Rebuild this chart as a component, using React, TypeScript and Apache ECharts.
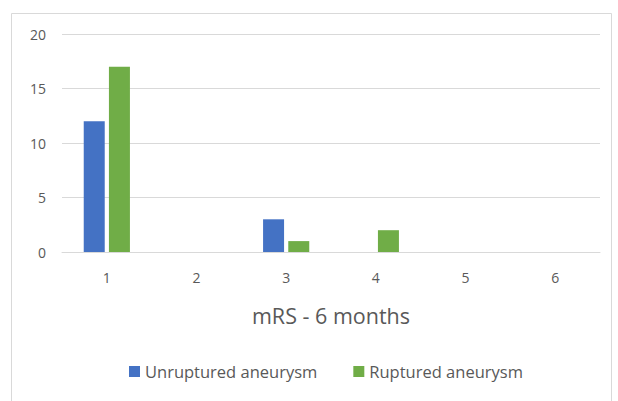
import React, { useEffect, useRef } from "react";
import * as echarts from "echarts";

const categories = ["1", "2", "3", "4", "5", "6"];
const unruptured = [12, 0, 3, 0, 0, 0];
const ruptured = [17, 0, 1, 2, 0, 0];
const seriesNames = ["Unruptured aneurysm", "Ruptured aneurysm"];

export default function App() {
  const ref = useRef<HTMLDivElement>(null);
  useEffect(() => {
    if (!ref.current) return;
    const chart = echarts.init(ref.current, undefined, { renderer: "svg" });
    const font = "Open Sans, Noto Sans, sans-serif";
    chart.setOption({
      animation: false,
      backgroundColor: "#ffffff",
      textStyle: { fontFamily: font },
      graphic: [
        {
          type: "rect",
          shape: { x: 11.5, y: 13.5, width: 600, height: 395 },
          style: { fill: "none", stroke: "#d9d9d9", lineWidth: 1 },
          silent: true,
        },
      ],
      grid: { left: 62, right: 18, top: 34, bottom: 149 },
      legend: {
        bottom: 16,
        left: 124,
        itemWidth: 11,
        itemHeight: 11,
        itemGap: 36,
        icon: "rect",
        textStyle: { color: "#595959", fontSize: 16.5, fontFamily: font },
        data: seriesNames,
      },
      xAxis: {
        type: "category",
        data: categories,
        name: "mRS - 6 months",
        nameLocation: "middle",
        nameGap: 52,
        nameTextStyle: { color: "#595959", fontSize: 21.5, fontFamily: font },
        axisLine: { lineStyle: { color: "#d9d9d9" } },
        axisTick: { show: false },
        axisLabel: { color: "#595959", fontSize: 14, margin: 18, fontFamily: font },
      },
      yAxis: {
        type: "value",
        min: 0,
        max: 20,
        interval: 5,
        axisLine: { show: false },
        axisTick: { show: false },
        splitLine: { lineStyle: { color: "#d9d9d9" } },
        axisLabel: { color: "#595959", fontSize: 14, margin: 16, fontFamily: font },
      },
      series: [
        {
          name: seriesNames[0],
          type: "bar",
          data: unruptured,
          barWidth: 21,
          barGap: "20%",
          itemStyle: { color: "#4472C4" },
        },
        {
          name: seriesNames[1],
          type: "bar",
          data: ruptured,
          barWidth: 21,
          itemStyle: { color: "#70AD47" },
        },
      ],
    });
    return () => chart.dispose();
  }, []);
  return (
    <div
      ref={ref}
      style={{ position: "fixed", left: 0, top: 0, width: 618, height: 401 }}
    />
  );
}
